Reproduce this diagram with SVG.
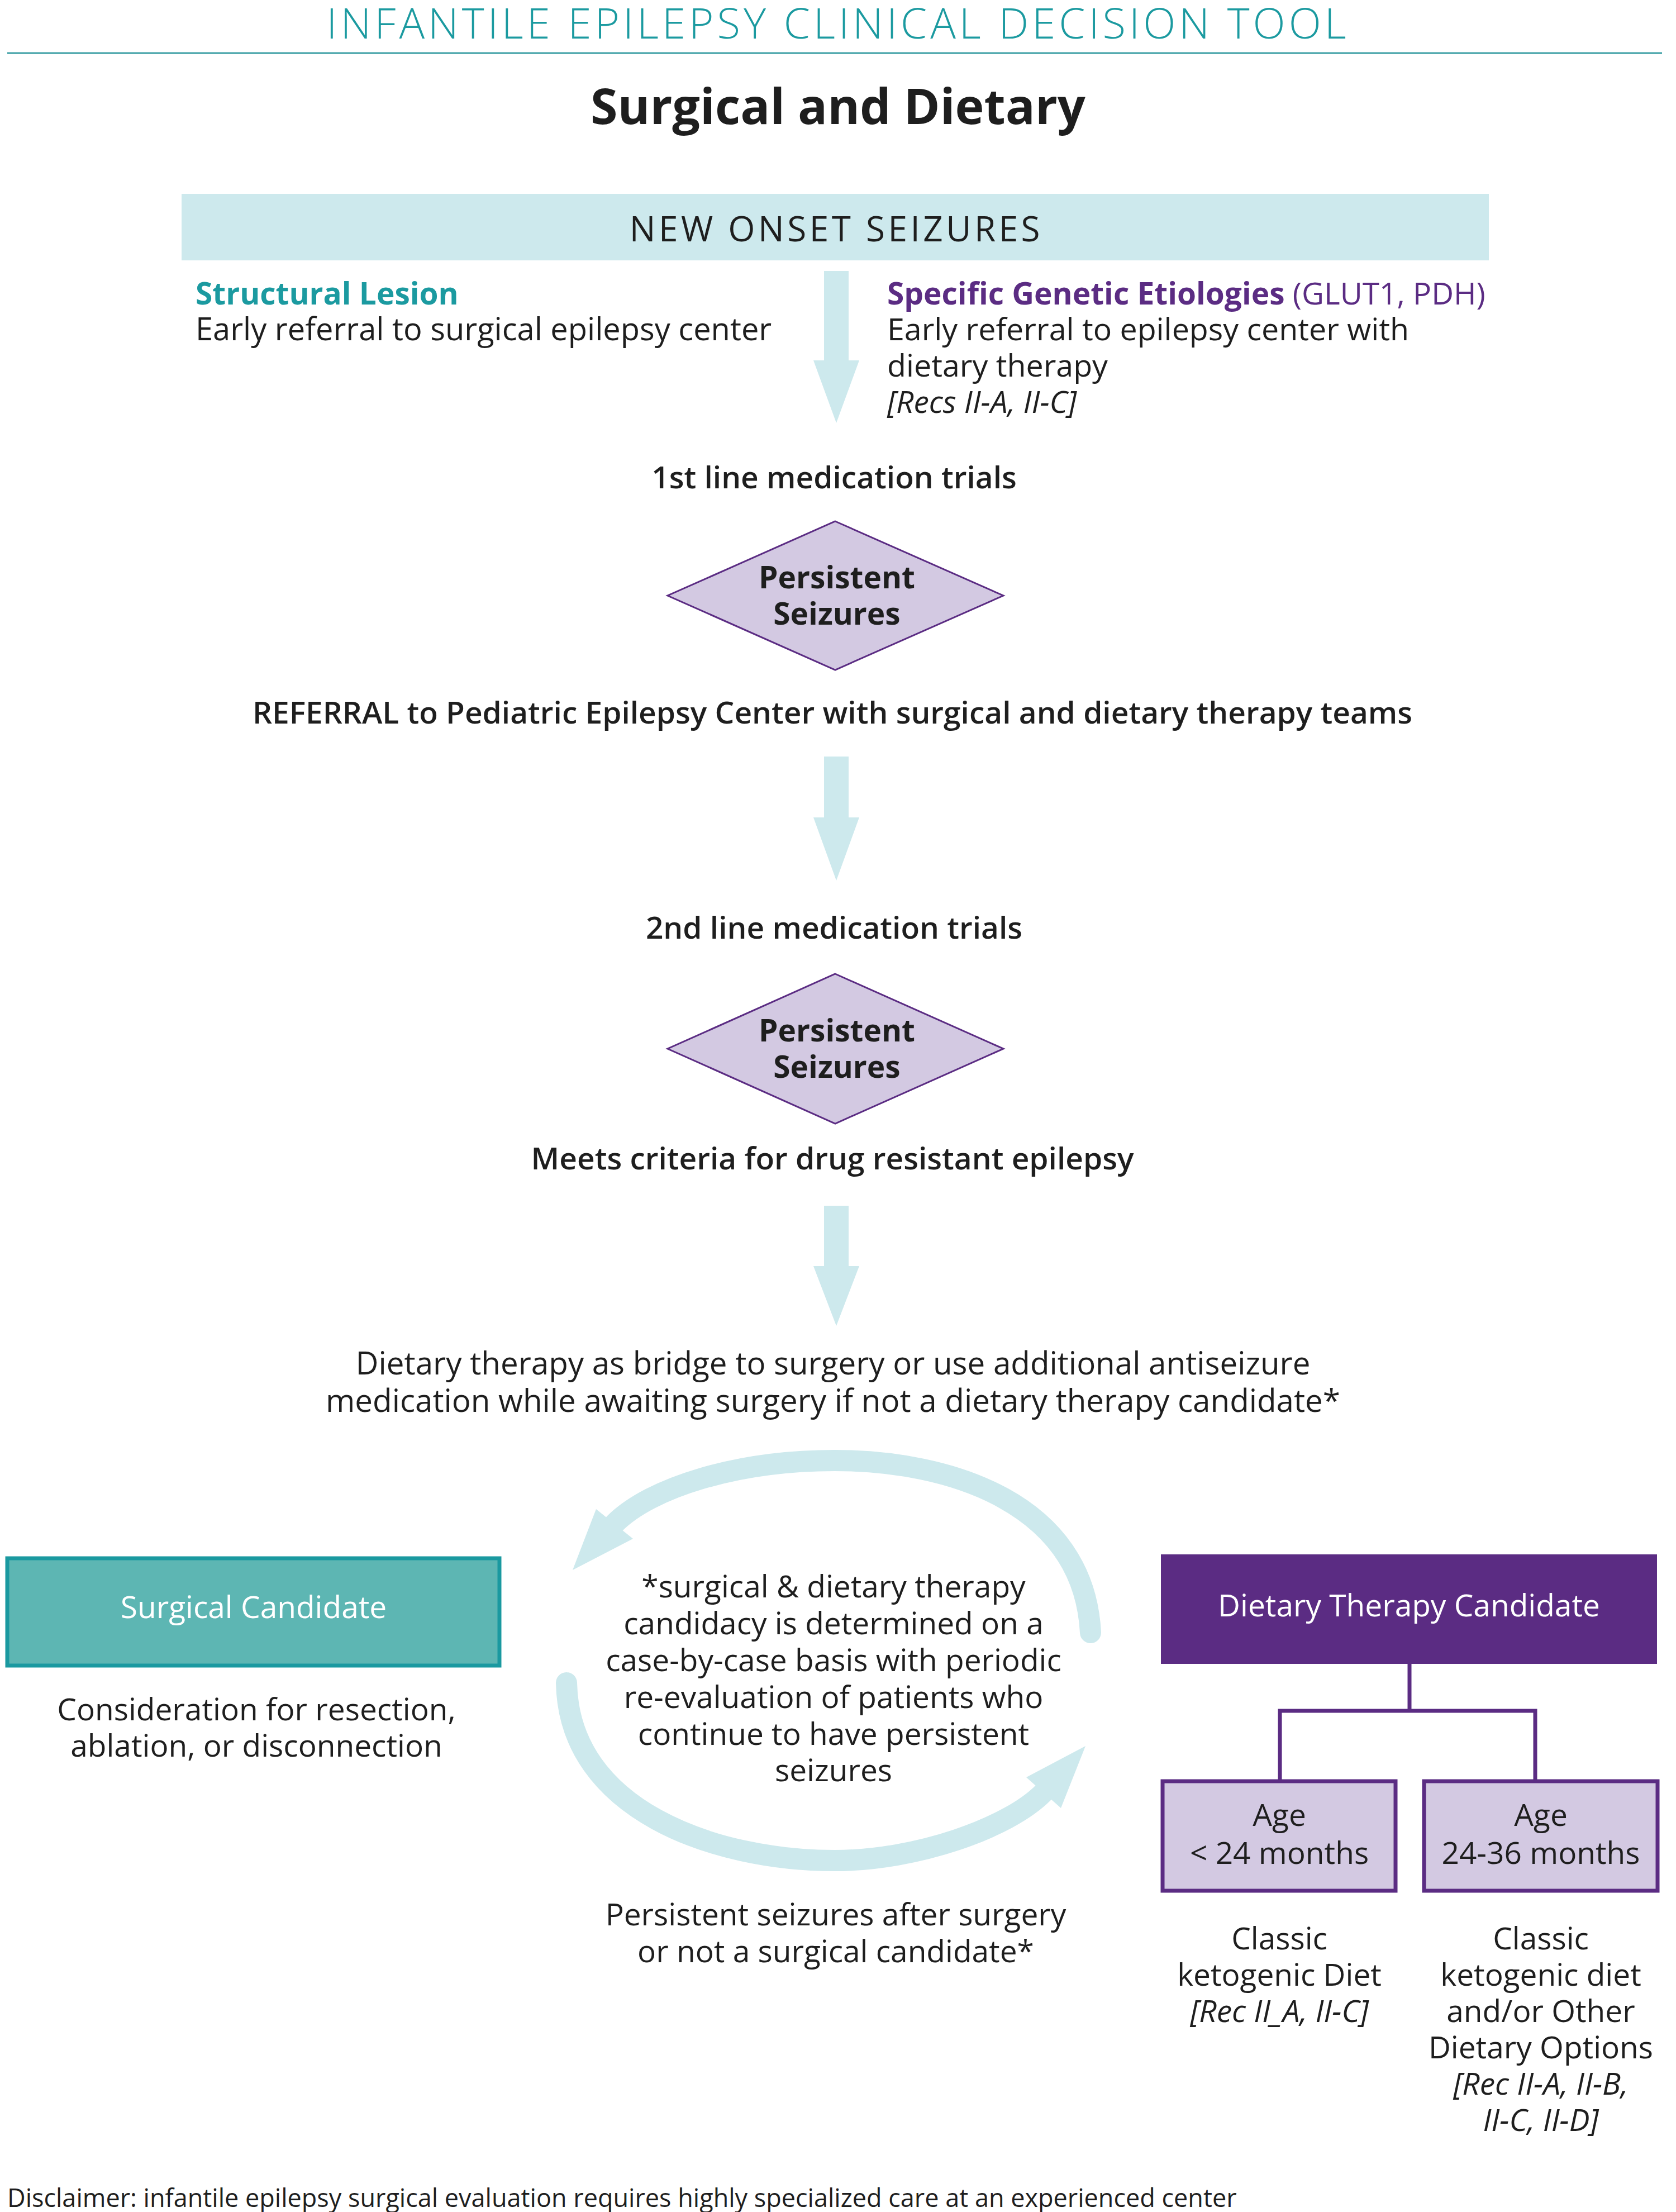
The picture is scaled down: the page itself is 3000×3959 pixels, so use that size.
<svg xmlns="http://www.w3.org/2000/svg" width="3000" height="3959" viewBox="0 0 3000 3959">
<style>
text{font-family:"Open Sans","Noto Sans","DejaVu Sans",sans-serif;fill:#1e1e1e;font-size:55px}
.c{text-anchor:middle}
.b{font-weight:700}
.sb{font-weight:600}
.i{font-style:italic}
.w{fill:#ffffff}
.arrow{fill:#cde9ed}
.arc{fill:none;stroke:#cde9ed;stroke-width:38}
.dia{fill:#d3c9e2;stroke:#5b2c83;stroke-width:3}
.age{fill:#d3c9e2;stroke:#5b2c83;stroke-width:7}
.tree{fill:none;stroke:#5b2c83;stroke-width:7}
</style>
<rect width="3000" height="3959" fill="#ffffff"/>
<g id="header">
<text class="c" x="1500" y="69" style="font-size:76px;font-weight:300;fill:#1b9aa0;letter-spacing:6px">INFANTILE EPILEPSY CLINICAL DECISION TOOL</text>
<line x1="13" y1="95" x2="2975" y2="95" stroke="#3c9fa5" stroke-width="3"/>
<text class="c b" x="1500" y="222" style="font-size:88px">Surgical and Dietary</text>
</g>
<g id="connectors">
<polygon class="arrow" points="1475,485 1519,485 1519,645 1538,645 1497,757 1456,645 1475,645"/>
<polygon class="arrow" points="1475,1354 1519,1354 1519,1463 1538,1463 1497,1576 1456,1463 1475,1463"/>
<polygon class="arrow" points="1475,2158 1519,2158 1519,2266 1538,2266 1497,2373 1456,2266 1475,2266"/>
<path class="arc" d="M 1952 2922 C 1940 2690, 1700 2614, 1494 2614 C 1320 2614, 1165 2662, 1100 2727" stroke-linecap="round"/>
<polygon class="arrow" points="1025,2810 1067,2701 1133,2754"/>
<path class="arc" d="M 1014 3012 C 1018 3240, 1280 3330, 1494 3330 C 1640 3330, 1805 3272, 1868 3208" stroke-linecap="round"/>
<polygon class="arrow" points="1943,3125 1837,3181 1899,3236"/>
<path class="tree" d="M 2523 2978 V 3062 M 2291 3185 V 3062 H 2748 V 3185"/>
</g>
<g id="new-onset">
<rect x="325" y="347" width="2340" height="119" fill="#cde9ed"/>
<text class="c" x="1497" y="432" style="font-size:62px;letter-spacing:5.5px">NEW ONSET SEIZURES</text>
</g>
<g id="structural">
<text class="b" x="350" y="545" style="fill:#1b9aa0">Structural Lesion</text>
<text x="350" y="609" style="font-size:56px">Early referral to surgical epilepsy center</text>
</g>
<g id="genetic">
<text x="1588" y="545" style="fill:#5b2c83"><tspan class="b" style="fill:#5b2c83">Specific Genetic Etiologies</tspan> (GLUT1, PDH)</text>
<text x="1588" y="609" style="font-size:55.5px">Early referral to epilepsy center with</text>
<text x="1588" y="674" style="font-size:55.5px">dietary therapy</text>
<text class="i" x="1588" y="739">[Recs II-A, II-C]</text>
</g>
<g id="first-line">
<text class="c sb" x="1493" y="874">1st line medication trials</text>
</g>
<g id="diamond1">
<polygon class="dia" points="1495,933 1796,1066 1495,1199 1195,1066"/>
<text class="c b" x="1498" y="1053">Persistent</text>
<text class="c b" x="1498" y="1118">Seizures</text>
</g>
<g id="referral">
<text class="c sb" x="1490" y="1295">REFERRAL to Pediatric Epilepsy Center with surgical and dietary therapy teams</text>
</g>
<g id="second-line">
<text class="c sb" x="1493" y="1680">2nd line medication trials</text>
</g>
<g id="diamond2">
<polygon class="dia" points="1495,1743 1796,1877 1495,2011 1195,1877"/>
<text class="c b" x="1498" y="1864">Persistent</text>
<text class="c b" x="1498" y="1929">Seizures</text>
</g>
<g id="drug-resistant">
<text class="c sb" x="1490" y="2093">Meets criteria for drug resistant epilepsy</text>
</g>
<g id="bridge">
<text class="c" x="1491" y="2460" style="font-size:56.5px">Dietary therapy as bridge to surgery or use additional antiseizure</text>
<text class="c" x="1491" y="2527" style="font-size:56.5px">medication while awaiting surgery if not a dietary therapy candidate*</text>
</g>
<g id="surgical-candidate">
<rect x="13" y="2789" width="881" height="192" fill="#5db6b3" stroke="#1a99a0" stroke-width="7"/>
<text class="c w" x="454" y="2896">Surgical Candidate</text>
<text class="c" x="459" y="3079">Consideration for resection,</text>
<text class="c" x="459" y="3144">ablation, or disconnection</text>
</g>
<g id="cycle-note">
<text class="c" x="1492" y="2859">*surgical &amp; dietary therapy</text>
<text class="c" x="1492" y="2925">candidacy is determined on a</text>
<text class="c" x="1492" y="2991">case-by-case basis with periodic</text>
<text class="c" x="1492" y="3057">re-evaluation of patients who</text>
<text class="c" x="1492" y="3123">continue to have persistent</text>
<text class="c" x="1492" y="3188">seizures</text>
<text class="c" x="1496" y="3446">Persistent seizures after surgery</text>
<text class="c" x="1496" y="3512">or not a surgical candidate*</text>
</g>
<g id="dietary-candidate">
<rect x="2078" y="2782" width="888" height="196" fill="#5b2c83"/>
<text class="c w" x="2522" y="2893">Dietary Therapy Candidate</text>
</g>
<g id="age-under-24">
<rect x="2081" y="3188" width="417" height="196" class="age"/>
<text class="c" x="2290" y="3268">Age</text>
<text class="c" x="2290" y="3336">&lt; 24 months</text>
<text class="c" x="2290" y="3489">Classic</text>
<text class="c" x="2290" y="3554">ketogenic Diet</text>
<text class="c i" x="2290" y="3619">[Rec II_A, II-C]</text>
</g>
<g id="age-24-36">
<rect x="2549" y="3188" width="418" height="196" class="age"/>
<text class="c" x="2758" y="3268">Age</text>
<text class="c" x="2758" y="3336">24-36 months</text>
<text class="c" x="2758" y="3489">Classic</text>
<text class="c" x="2758" y="3554">ketogenic diet</text>
<text class="c" x="2758" y="3619">and/or Other</text>
<text class="c" x="2758" y="3684">Dietary Options</text>
<text class="c i" x="2758" y="3749">[Rec II-A, II-B,</text>
<text class="c i" x="2758" y="3814">II-C, II-D]</text>
</g>
<g id="disclaimer">
<text x="13" y="3950" style="font-size:45px">Disclaimer: infantile epilepsy surgical evaluation requires highly specialized care at an experienced center</text>
</g>
</svg>
